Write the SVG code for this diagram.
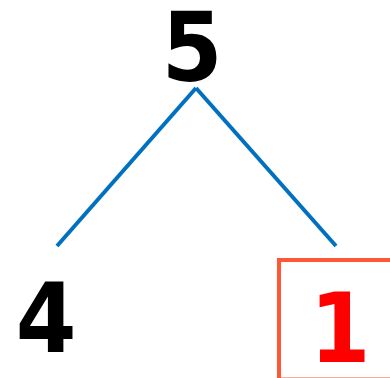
<svg xmlns="http://www.w3.org/2000/svg" width="390" height="378" viewBox="0 0 390 378">
<style>
.num{font-family:"DejaVu Sans Condensed","DejaVu Sans",sans-serif;font-stretch:condensed;font-weight:bold;font-size:97px;text-anchor:middle}
.edge{stroke:#0070c0;stroke-width:4;fill:none;stroke-linecap:butt}
</style>
<rect width="390" height="378" fill="#ffffff"/>
<g id="connectors">
<line class="edge" x1="196" y1="88" x2="57" y2="246"/>
<line class="edge" x1="196" y1="88" x2="336" y2="246"/>
</g>
<g id="node-5"><text class="num" x="192" y="81" fill="#000000">5</text></g>
<g id="node-4"><text class="num" x="46" y="352" fill="#000000">4</text></g>
<g id="node-1">
<rect x="279" y="260" width="124" height="119.5" fill="none" stroke="#ff5733" stroke-width="4"/>
<text class="num" x="340" y="362" fill="#ff0000">1</text>
</g>
</svg>
